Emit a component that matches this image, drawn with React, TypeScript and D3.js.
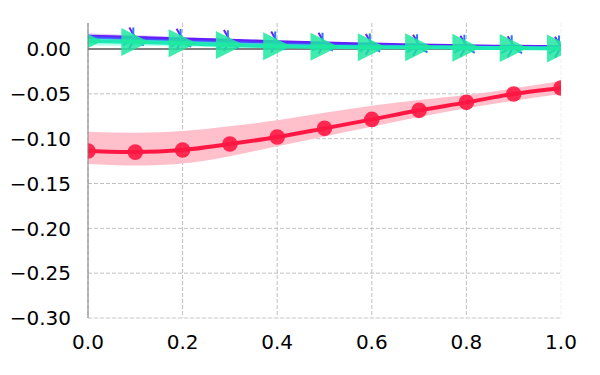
import * as d3 from 'd3';
import { useEffect } from 'react';

const W = 600;
const H = 375;

const xs = [0, 0.1, 0.2, 0.3, 0.4, 0.5, 0.6, 0.7, 0.8, 0.9, 1.0];
const xTicks = [0, 0.2, 0.4, 0.6, 0.8, 1.0];
const yTicks = [0, -0.05, -0.1, -0.15, -0.2, -0.25, -0.3];

// red series (circles)
const redMean = [-0.1138, -0.115, -0.1127, -0.106, -0.0982, -0.0885, -0.0785, -0.0684, -0.0595, -0.0502, -0.0435];
const redLow = [-0.1283, -0.130, -0.1276, -0.1195, -0.1085, -0.0975, -0.0867, -0.0758, -0.0662, -0.0577, -0.0502];
const redHigh = [-0.0923, -0.0934, -0.0915, -0.0862, -0.0795, -0.0712, -0.0632, -0.057, -0.0513, -0.0439, -0.0357];

// purple series (tri right)
const purpleMean = [0.014, 0.0125, 0.011, 0.0095, 0.0078, 0.0064, 0.0052, 0.0042, 0.0033, 0.0027, 0.0022];
const purpleLow = [0.0105, 0.0096, 0.0086, 0.0075, 0.0062, 0.0051, 0.0041, 0.0033, 0.0025, 0.0020, 0.0016];
const purpleHigh = [0.0175, 0.0155, 0.0135, 0.0115, 0.0095, 0.0078, 0.0063, 0.0051, 0.0041, 0.0034, 0.0028];

// blue series (tri up)
const blueMean = [0.013, 0.0106, 0.009, 0.0075, 0.006, 0.0048, 0.0038, 0.003, 0.0025, 0.002, 0.0016];

// green series (triangles right)
const greenMean = [0.009, 0.0078, 0.0064, 0.0045, 0.0030, 0.0025, 0.0020, 0.0020, 0.0015, 0.0010, 0.0005];
const greenLow = [0.0040, 0.0035, 0.0028, 0.0015, 0.0004, -0.0001, -0.0004, -0.0004, -0.0006, -0.0008, -0.0010];
const greenHigh = [0.0140, 0.0120, 0.0100, 0.0075, 0.0056, 0.0050, 0.0044, 0.0042, 0.0036, 0.0028, 0.0020];

export default function App() {
    useEffect(() => {
        document.body.style.margin = '0';
    }, []);

    const margin = { left: 88, right: 39, top: 23, bottom: 57 };
    const x = d3.scaleLinear().domain([0, 1]).range([margin.left, W - margin.right]);
    const y = d3.scaleLinear().domain([-0.3, 0.029]).range([H - margin.bottom, margin.top]);

    const line = d3
        .line<number>()
        .x((_, i) => x(xs[i]))
        .y((d) => y(d))
        .curve(d3.curveMonotoneX);

    const band = (lo: number[], hi: number[]) =>
        d3
            .area<number>()
            .x((_, i) => x(xs[i]))
            .y0((_, i) => y(lo[i]))
            .y1((_, i) => y(hi[i]))
            .curve(d3.curveMonotoneX)(lo) || '';

    const font = 'DejaVu Sans, sans-serif';
    const fs = 20;
    const x0 = x(0);
    const x1 = x(1);
    const yTop = y(0.029);
    const yBot = y(-0.3);

    const triR = 14;
    const triRight = `M${-triR},${-triR}L${-triR},${triR}L${triR},0Z`;
    const tri = (angles: number[], r: number) =>
        angles.map((a) => `M0,0L${r * Math.cos(a)},${r * Math.sin(a)}`).join('');
    const triUp = tri([-Math.PI / 2, Math.PI / 6, (5 * Math.PI) / 6], 12);
    const triRightStar = tri([0, (2 * Math.PI) / 3, (-2 * Math.PI) / 3], 12);

    return (
        <svg width={W} height={H} style={{ display: 'block' }}>
            <defs>
                <clipPath id="plot">
                    <rect x={x0} y={yTop} width={x1 - x0} height={yBot - yTop} />
                </clipPath>
            </defs>
            <rect width={W} height={H} fill="#fff" />

            {/* grid */}
            {yTicks.map((t) => (
                <line key={'gy' + t} x1={x0} x2={x1} y1={y(t)} y2={y(t)} stroke="#b0b0b0" strokeWidth={0.8} strokeDasharray="4,2" />
            ))}
            {xTicks.map((t) => (
                <line
                    key={'gx' + t}
                    x1={x(t)}
                    x2={x(t)}
                    y1={yTop}
                    y2={yBot}
                    stroke={t === 1 ? '#ececec' : '#b0b0b0'}
                    strokeWidth={0.8}
                    strokeDasharray="4,2"
                />
            ))}
            <line x1={x0} x2={x1} y1={yBot} y2={yBot} stroke="#ececec" strokeWidth={0.8} />

            <g clipPath="url(#plot)">
                {/* bands */}
                <path d={band(redLow, redHigh)} fill="#ffc0cb" />
                <path d={band(purpleLow, purpleHigh)} fill="#b388ff" opacity={0.45} />
                <path d={band(greenLow, greenHigh)} fill="#64ffda" opacity={0.5} />

                {/* zero line */}
                <line x1={x0} x2={x1} y1={y(0)} y2={y(0)} stroke="#808080" strokeWidth={2.2} />

                {/* red */}
                <path d={line(redMean) || ''} fill="none" stroke="#ff1744" strokeWidth={4} />
                {redMean.map((v, i) => (
                    <circle key={'r' + i} cx={x(xs[i])} cy={y(v)} r={7.8} fill="#ff1744" opacity={0.9} />
                ))}

                {/* purple */}
                <path d={line(purpleMean) || ''} fill="none" stroke="#651fff" strokeWidth={3.5} />
                {purpleMean.map((v, i) => (
                    <path
                        key={'p' + i}
                        d={triRightStar}
                        transform={`translate(${x(xs[i])},${y(v)})`}
                        stroke="#651fff"
                        strokeWidth={2}
                    />
                ))}

                {/* blue */}
                <path d={line(blueMean) || ''} fill="none" stroke="#2979ff" strokeWidth={2.5} opacity={0.6} />
                {blueMean.map((v, i) => (
                    <path
                        key={'b' + i}
                        d={triUp}
                        transform={`translate(${x(xs[i]) - 2},${y(v)})`}
                        stroke="#2979ff"
                        strokeWidth={2}
                    />
                ))}

                {/* green */}
                <path d={line(greenMean) || ''} fill="none" stroke="#1de9b6" strokeWidth={4} />
                {greenMean.map((v, i) => (
                    <path
                        key={'g' + i}
                        d={triRight}
                        transform={`translate(${x(xs[i])},${y(v)})`}
                        fill="#1de9a0"
                        opacity={0.85}
                    />
                ))}
            </g>

            {/* left spine */}
            <line x1={x0} x2={x0} y1={yTop} y2={yBot} stroke="#808080" strokeWidth={1} />

            {/* tick labels */}
            {yTicks.map((t) => (
                <text
                    key={'ly' + t}
                    x={71}
                    y={y(t)}
                    dy="0.36em"
                    textAnchor="end"
                    fontFamily={font}
                    fontSize={fs}
                    fill="#000"
                >
                    {d3.format('.2f')(t).replace('-', '\u2212')}
                </text>
            ))}
            {xTicks.map((t) => (
                <text
                    key={'lx' + t}
                    x={x(t)}
                    y={yBot + 31}
                    textAnchor="middle"
                    fontFamily={font}
                    fontSize={fs}
                    fill="#000"
                >
                    {d3.format('.1f')(t)}
                </text>
            ))}
        </svg>
    );
}
